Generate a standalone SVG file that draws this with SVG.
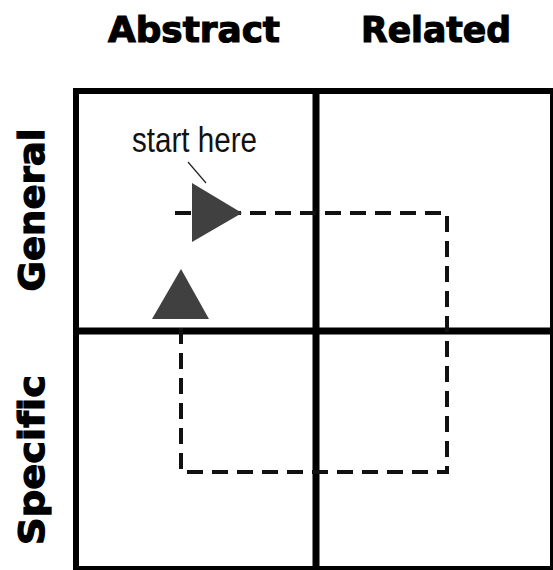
<svg xmlns="http://www.w3.org/2000/svg" width="553" height="570" viewBox="0 0 553 570">
<style>
.hdr{font-family:"DejaVu Sans","Liberation Sans",sans-serif;font-weight:bold;font-size:36px;fill:#000;stroke:#000;stroke-width:1.2;text-anchor:middle;font-variant-ligatures:none}
.grid{stroke:#000;fill:none}
.path{stroke:#111;stroke-width:4;fill:none;stroke-dasharray:16 9}
.tri{fill:#404040}
.lbl{font-family:"Liberation Sans",Arial,sans-serif;font-size:35px;fill:#111}
</style>
<rect width="553" height="570" fill="#fff"/>
<g id="col-abstract"><text class="hdr" x="194" y="42" textLength="172" lengthAdjust="spacingAndGlyphs">Abstract</text></g>
<g id="col-related"><text class="hdr" x="436" y="42" textLength="150" lengthAdjust="spacingAndGlyphs">Related</text></g>
<g id="row-general"><text class="hdr" transform="translate(44,210) rotate(-90)" x="0" y="0" textLength="163" lengthAdjust="spacingAndGlyphs">General</text></g>
<g id="row-specific"><text class="hdr" transform="translate(44,460) rotate(-90)" x="0" y="0" textLength="170" lengthAdjust="spacingAndGlyphs">Specific</text></g>
<g id="grid">
<rect class="grid" x="76" y="91" width="477" height="478" stroke-width="6"/>
<line class="grid" x1="316" y1="88" x2="316" y2="570" stroke-width="7"/>
<line class="grid" x1="73" y1="331" x2="553" y2="331" stroke-width="7"/>
</g>
<g id="connectors">
<path class="path" d="M175,213 H447 V472 H181 V318"/>
<polygon class="tri" points="192,183 192,242 242,213"/>
<polygon class="tri" points="181,269 152,319 209,319"/>
<line x1="188" y1="162" x2="206" y2="183" stroke="#222" stroke-width="1.2"/>
</g>
<g id="start-label"><text class="lbl" x="132" y="152" textLength="125" lengthAdjust="spacingAndGlyphs">start here</text></g>
</svg>
